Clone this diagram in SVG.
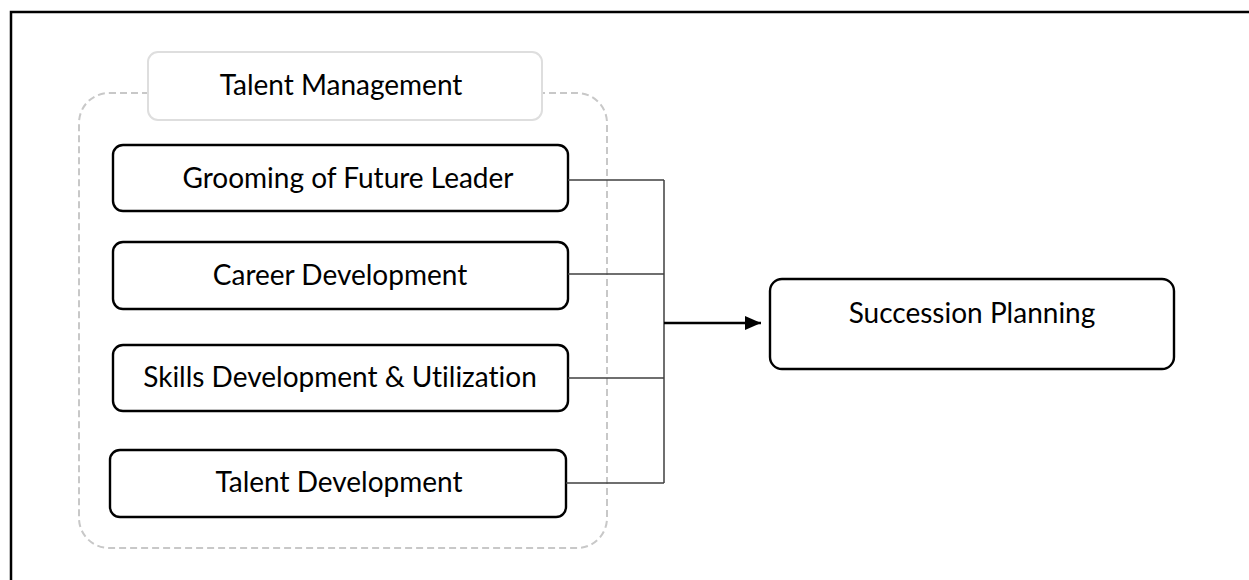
<svg xmlns="http://www.w3.org/2000/svg" width="1249" height="580" viewBox="0 0 1249 580">
  <style>
    .lbl { font-family: Lato, "Open Sans", "Liberation Sans", sans-serif; font-size: 28px; fill: #000; text-anchor: middle; font-variant-ligatures: none; }
    .box { fill: #fff; stroke: #000; stroke-width: 2.4; }
    .link { fill: none; stroke: #404040; stroke-width: 1.5; }
  </style>
  <defs>
    <marker id="arrowhead" markerUnits="userSpaceOnUse" markerWidth="17" markerHeight="17" refX="16" refY="8.5" orient="auto">
      <path d="M0,1.5 L16,8.5 L0,15.5 Z" fill="#000"/>
    </marker>
  </defs>
  <rect width="1249" height="580" fill="#fff"/>
  <!-- outer frame, open on the right and bottom -->
  <path d="M11,580 V12 H1249" fill="none" stroke="#000" stroke-width="2.5"/>

  <g id="talent-management">
    <rect x="79" y="93" width="528" height="455" rx="30" fill="none" stroke="#c8c8c8" stroke-width="2" stroke-dasharray="7 4"/>
    <rect x="148" y="52" width="394" height="68" rx="10" fill="#fff" stroke="#dedede" stroke-width="2"/>
    <text class="lbl" x="341" y="95">Talent Management</text>
  </g>

  <g id="grooming">
    <rect class="box" x="113" y="145" width="455" height="66" rx="10"/>
    <text class="lbl" x="348" y="188">Grooming of Future Leader</text>
  </g>
  <g id="career">
    <rect class="box" x="113" y="242" width="455" height="67" rx="10"/>
    <text class="lbl" x="340" y="285">Career Development</text>
  </g>
  <g id="skills">
    <rect class="box" x="113" y="345" width="455" height="66" rx="10"/>
    <text class="lbl" x="340" y="387">Skills Development &amp; Utilization</text>
  </g>
  <g id="talent-development">
    <rect class="box" x="110" y="450" width="456" height="67" rx="10"/>
    <text class="lbl" x="339" y="492">Talent Development</text>
  </g>
  <g id="succession">
    <rect class="box" x="770" y="279" width="404" height="90" rx="12"/>
    <text class="lbl" x="972" y="323">Succession Planning</text>
  </g>

  <g id="connectors">
    <path class="link" d="M568,180 H664 M568,274 H664 M568,378 H664 M566,483 H664 M664,180 V483"/>
    <path d="M664,323 H761" fill="none" stroke="#000" stroke-width="2.5" marker-end="url(#arrowhead)"/>
  </g>
</svg>
